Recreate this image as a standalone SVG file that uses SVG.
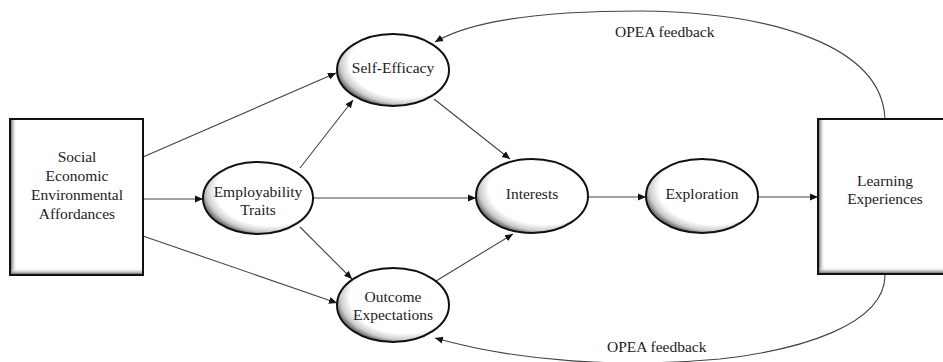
<svg xmlns="http://www.w3.org/2000/svg" width="943" height="362" viewBox="0 0 943 362">
<style>
.lbl{font-size:15.5px;fill:#222;text-anchor:middle}
.fb{font-size:15.5px;fill:#222}
.box{fill:#fff;stroke:#111;stroke-width:2}
.ell{fill:url(#eg);stroke:#111;stroke-width:2}
.con{fill:none;stroke:#444;stroke-width:1.1}
</style>
<defs>
<radialGradient id="eg" cx="0.6" cy="0.4" r="0.62">
<stop offset="0" stop-color="#fff"/>
<stop offset="0.78" stop-color="#fff"/>
<stop offset="0.92" stop-color="#ccc"/>
<stop offset="1" stop-color="#777"/>
</radialGradient>
<linearGradient id="lg" x1="0" y1="0" x2="1" y2="0">
<stop offset="0" stop-color="#777"/>
<stop offset="1" stop-color="#fff" stop-opacity="0"/>
</linearGradient>
<linearGradient id="bg" x1="0" y1="1" x2="0" y2="0">
<stop offset="0" stop-color="#777"/>
<stop offset="1" stop-color="#fff" stop-opacity="0"/>
</linearGradient>
<marker id="ah" markerUnits="userSpaceOnUse" markerWidth="9" markerHeight="8" refX="8" refY="4" orient="auto">
<path d="M0,0.5 L8,4 L0,7.5 z" fill="#111"/>
</marker>
</defs>
<g id="connectors">
<line class="con" x1="143" y1="157" x2="336" y2="73" marker-end="url(#ah)"/>
<line class="con" x1="143" y1="199" x2="203" y2="199" marker-end="url(#ah)"/>
<line class="con" x1="143" y1="236" x2="337" y2="303" marker-end="url(#ah)"/>
<line class="con" x1="300" y1="168" x2="353" y2="100" marker-end="url(#ah)"/>
<line class="con" x1="313" y1="198" x2="476" y2="198" marker-end="url(#ah)"/>
<line class="con" x1="300" y1="227" x2="352" y2="279" marker-end="url(#ah)"/>
<line class="con" x1="434" y1="99" x2="510" y2="159" marker-end="url(#ah)"/>
<line class="con" x1="436" y1="281" x2="513" y2="234" marker-end="url(#ah)"/>
<line class="con" x1="588" y1="197" x2="646" y2="197" marker-end="url(#ah)"/>
<line class="con" x1="758" y1="197" x2="818" y2="197" marker-end="url(#ah)"/>
<path class="con" d="M885,119 C882,45 770,12 640,11 C545,11 472,20 435,42" marker-end="url(#ah)"/>
<path class="con" d="M885,275 C885,325 800,350 720,359 C620,368 520,362 435,338" marker-end="url(#ah)"/>
</g>
<g font-family="'Liberation Serif', 'DejaVu Serif', serif">
<g id="node-affordances">
<rect class="box" x="10" y="119" width="133" height="156"/>
<rect x="11" y="120" width="6" height="154" fill="url(#lg)"/>
<rect x="11" y="268" width="131" height="6" fill="url(#bg)"/>
<text class="lbl" x="77" y="162">Social</text>
<text class="lbl" x="77" y="181">Economic</text>
<text class="lbl" x="77" y="200">Environmental</text>
<text class="lbl" x="77" y="219">Affordances</text>
</g>
<g id="node-employability">
<ellipse class="ell" cx="258" cy="198" rx="55" ry="36"/>
<text class="lbl" x="258" y="197">Employability</text>
<text class="lbl" x="258" y="215">Traits</text>
</g>
<g id="node-selfefficacy">
<ellipse class="ell" cx="393" cy="70" rx="56" ry="36"/>
<text class="lbl" x="393" y="73">Self-Efficacy</text>
</g>
<g id="node-outcome">
<ellipse class="ell" cx="393" cy="305" rx="56" ry="37"/>
<text class="lbl" x="393" y="302">Outcome</text>
<text class="lbl" x="393" y="320">Expectations</text>
</g>
<g id="node-interests">
<ellipse class="ell" cx="532" cy="196" rx="56" ry="37"/>
<text class="lbl" x="532" y="199">Interests</text>
</g>
<g id="node-exploration">
<ellipse class="ell" cx="702" cy="196" rx="56" ry="37"/>
<text class="lbl" x="702" y="199">Exploration</text>
</g>
<g id="node-learning">
<rect class="box" x="818" y="119" width="134" height="155"/>
<rect x="819" y="120" width="6" height="153" fill="url(#lg)"/>
<rect x="819" y="267" width="130" height="6" fill="url(#bg)"/>
<text class="lbl" x="885" y="186">Learning</text>
<text class="lbl" x="885" y="204">Experiences</text>
</g>
<g id="labels">
<text class="fb" x="615" y="37">OPEA feedback</text>
<text class="fb" x="607" y="352">OPEA feedback</text>
</g>
</g>
</svg>
